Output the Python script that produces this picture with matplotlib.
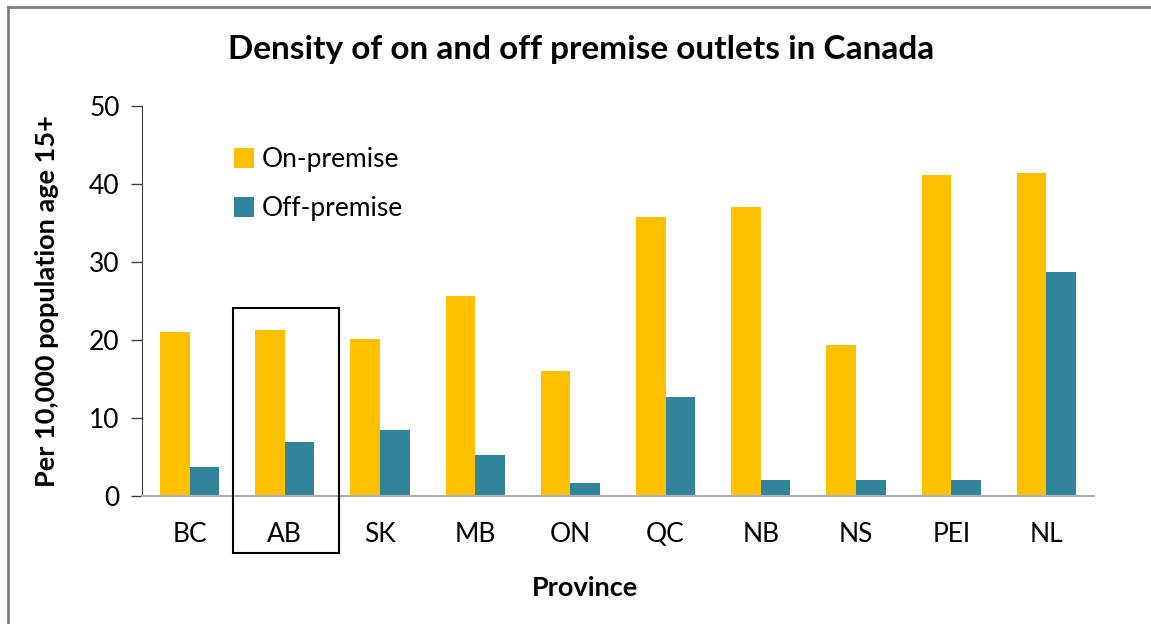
import matplotlib.pyplot as plt
import numpy as np
from matplotlib.patches import Rectangle
from matplotlib.lines import Line2D

provinces = ['BC', 'AB', 'SK', 'MB', 'ON', 'QC', 'NB', 'NS', 'PEI', 'NL']
on_premise = [21.0, 21.3, 20.1, 25.6, 16.0, 35.8, 37.0, 19.3, 41.1, 41.4]
off_premise = [3.7, 6.9, 8.5, 5.2, 1.7, 12.7, 2.0, 2.1, 2.1, 28.7]

plt.rcParams['font.family'] = ['Lato', 'DejaVu Sans']

fig = plt.figure(figsize=(11.51, 6.24), dpi=100)
ax = fig.add_axes([142 / 1151, 1 - 496 / 624, (1094 - 142) / 1151, (496 - 106) / 624])

x = np.arange(len(provinces))
w = 0.31
ax.bar(x - w / 2, on_premise, w, color='#FFC000', label='On-premise', zorder=2)
ax.bar(x + w / 2, off_premise, w, color='#31849B', label='Off-premise', zorder=2)

ax.set_xlim(-0.5, len(provinces) - 0.5)
ax.set_ylim(0, 50)
ax.set_yticks(range(0, 51, 10))
ax.set_xticks(x)
ax.set_xticklabels(provinces)
ax.tick_params(axis='y', labelsize=19, length=8, width=1, color='#404040', pad=8)
ax.tick_params(axis='x', labelsize=19, length=0, pad=19)

for s in ['top', 'right']:
    ax.spines[s].set_visible(False)
ax.spines['left'].set_color('#404040')
ax.spines['bottom'].set_color('#b0b0b0')
ax.spines['bottom'].set_linewidth(1.5)

fig.text(581 / 1151, 1 - 50 / 624, 'Density of on and off premise outlets in Canada',
         fontsize=24, fontweight='bold', ha='center', va='center')
ax.set_ylabel('Per 10,000 population age 15+', fontsize=19.5, fontweight='bold', labelpad=22)
ax.set_xlabel('Province', fontsize=19.5, fontweight='bold')
ax.xaxis.set_label_coords(0.465, -0.205)

ax.legend(loc='upper left', bbox_to_anchor=(0.072, 0.955), frameon=False, fontsize=19,
          handlelength=0.75, handleheight=0.75, handletextpad=0.3, labelspacing=0.9)

# highlight box around AB
ax.add_patch(Rectangle((0.456, -7.3), 1.113, 31.4, fill=False, edgecolor='black',
                       linewidth=1.5, clip_on=False, zorder=3))

# outer frame
fig.add_artist(Line2D([8 / 1151, 8 / 1151], [0, 1 - 7 / 624], color='#808080', lw=2))
fig.add_artist(Line2D([8 / 1151, 1], [1 - 7 / 624, 1 - 7 / 624], color='#808080', lw=2))

fig.savefig('out.png', dpi=100)
